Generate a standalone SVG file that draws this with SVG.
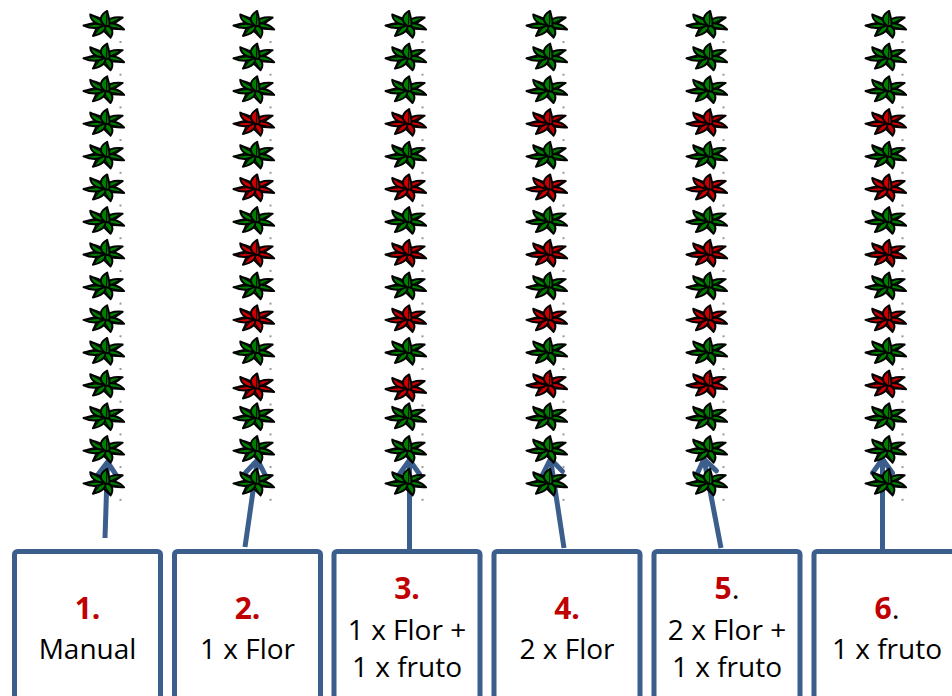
<svg xmlns="http://www.w3.org/2000/svg" xmlns:xlink="http://www.w3.org/1999/xlink" width="952" height="696" viewBox="0 0 952 696">
  <style>
    .box { fill: #ffffff; stroke: #3b5e8c; stroke-width: 5; }
    .num { font-family: "Open Sans", "Liberation Sans", sans-serif; font-size: 30px; font-weight: bold; fill: #c00000; text-anchor: middle; }
    .lbl { font-family: "Open Sans", "Liberation Sans", sans-serif; font-size: 28px; fill: #000000; text-anchor: middle; }
    .dot { font-weight: normal; fill: #000000; }
    .arrow { stroke: #3b5e8c; stroke-width: 5; fill: none; marker-end: url(#head); }
    .g { fill: #008000; }
    .r { fill: #cc0000; }
    .speck { fill: #9a9a9a; }
  </style>
  <defs>
    <!-- open V arrowhead -->
    <marker id="head" markerUnits="userSpaceOnUse" markerWidth="40" markerHeight="40" viewBox="-20 -20 40 40" refX="0" refY="0" orient="auto">
      <path d="M-14,-10 L0,0 L-14,10" fill="none" stroke="#3b5e8c" stroke-width="5" stroke-linejoin="round" stroke-linecap="round"/>
    </marker>
    <!-- one curved, swept leaf pointing along +x -->
    <g id="leaf">
      <path d="M-1,1 C2,-8 10,-10 18,-7.5 C13,-4 8,2 0,5 Z" stroke="#000" stroke-width="2" vector-effect="non-scaling-stroke" stroke-linejoin="round"/>
      <path d="M1,1.5 Q8,-2 15.5,-6.5" fill="none" stroke="#000" stroke-width="1.1" vector-effect="non-scaling-stroke"/>
    </g>
    <!-- whorl of leaves seen in perspective; fill comes from the using element -->
    <g id="plant">
      <g transform="translate(0.5,-0.5) scale(1.08,0.7)">
        <use href="#leaf" transform="rotate(-8)"/>
        <use href="#leaf" transform="rotate(44)"/>
        <use href="#leaf" transform="rotate(96)"/>
        <use href="#leaf" transform="rotate(146)"/>
        <use href="#leaf" transform="rotate(198)"/>
        <use href="#leaf" transform="rotate(250)"/>
        <use href="#leaf" transform="rotate(300)"/>
      </g>
      <rect class="speck" x="15.5" y="16" width="2" height="2"/>
    </g>
  </defs>

  <rect width="952" height="696" fill="#ffffff"/>

  <!-- connectors: each arrow rises from a box into its plant row -->
  <g id="connectors">
    <line class="arrow" x1="105" y1="538" x2="107.5" y2="462"/>
    <line class="arrow" x1="245" y1="547" x2="257.5" y2="460"/>
    <line class="arrow" x1="409.5" y1="549" x2="409.5" y2="460"/>
    <line class="arrow" x1="564" y1="548" x2="550.5" y2="459"/>
    <line class="arrow" x1="721" y1="548" x2="704" y2="459"/>
    <line class="arrow" x1="882.5" y1="549" x2="882.5" y2="459"/>
  </g>

  <!-- plant rows: 15 plants each, y = 25 + 32.7*i -->
  <g id="row-1" transform="translate(104,0)">
    <use href="#plant" class="g" y="25"/>
    <use href="#plant" class="g" y="57.7"/>
    <use href="#plant" class="g" y="90.4"/>
    <use href="#plant" class="g" y="123.1"/>
    <use href="#plant" class="g" y="155.8"/>
    <use href="#plant" class="g" y="188.5"/>
    <use href="#plant" class="g" y="221.2"/>
    <use href="#plant" class="g" y="253.9"/>
    <use href="#plant" class="g" y="286.6"/>
    <use href="#plant" class="g" y="319.3"/>
    <use href="#plant" class="g" y="352"/>
    <use href="#plant" class="g" y="384.7"/>
    <use href="#plant" class="g" y="417.4"/>
    <use href="#plant" class="g" y="450.1"/>
    <use href="#plant" class="g" y="482.8"/>
  </g>
  <g id="row-2" transform="translate(254,0)">
    <use href="#plant" class="g" y="25"/>
    <use href="#plant" class="g" y="57.7"/>
    <use href="#plant" class="g" y="90.4"/>
    <use href="#plant" class="r" y="123.1"/>
    <use href="#plant" class="g" y="155.8"/>
    <use href="#plant" class="r" y="188.5"/>
    <use href="#plant" class="g" y="221.2"/>
    <use href="#plant" class="r" y="253.9"/>
    <use href="#plant" class="g" y="286.6"/>
    <use href="#plant" class="r" y="319.3"/>
    <use href="#plant" class="g" y="352"/>
    <use href="#plant" class="r" y="387.5"/>
    <use href="#plant" class="g" y="417.4"/>
    <use href="#plant" class="g" y="450.1"/>
    <use href="#plant" class="g" y="482.8"/>
  </g>
  <g id="row-3" transform="translate(406,0)">
    <use href="#plant" class="g" y="25"/>
    <use href="#plant" class="g" y="57.7"/>
    <use href="#plant" class="g" y="90.4"/>
    <use href="#plant" class="r" y="123.1"/>
    <use href="#plant" class="g" y="155.8"/>
    <use href="#plant" class="r" y="188.5"/>
    <use href="#plant" class="g" y="221.2"/>
    <use href="#plant" class="r" y="253.9"/>
    <use href="#plant" class="g" y="286.6"/>
    <use href="#plant" class="r" y="319.3"/>
    <use href="#plant" class="g" y="352"/>
    <use href="#plant" class="r" y="388.5"/>
    <use href="#plant" class="g" y="417.4"/>
    <use href="#plant" class="g" y="450.1"/>
    <use href="#plant" class="g" y="482.8"/>
  </g>
  <g id="row-4" transform="translate(547,0)">
    <use href="#plant" class="g" y="25"/>
    <use href="#plant" class="g" y="57.7"/>
    <use href="#plant" class="g" y="90.4"/>
    <use href="#plant" class="r" y="123.1"/>
    <use href="#plant" class="g" y="155.8"/>
    <use href="#plant" class="r" y="188.5"/>
    <use href="#plant" class="g" y="221.2"/>
    <use href="#plant" class="r" y="253.9"/>
    <use href="#plant" class="g" y="286.6"/>
    <use href="#plant" class="r" y="319.3"/>
    <use href="#plant" class="g" y="352"/>
    <use href="#plant" class="r" y="384.7"/>
    <use href="#plant" class="g" y="417.4"/>
    <use href="#plant" class="g" y="450.1"/>
    <use href="#plant" class="g" y="482.8"/>
  </g>
  <g id="row-5" transform="translate(707,0)">
    <use href="#plant" class="g" y="25"/>
    <use href="#plant" class="g" y="57.7"/>
    <use href="#plant" class="g" y="90.4"/>
    <use href="#plant" class="r" y="123.1"/>
    <use href="#plant" class="g" y="155.8"/>
    <use href="#plant" class="r" y="188.5"/>
    <use href="#plant" class="g" y="221.2"/>
    <use href="#plant" class="r" y="253.9"/>
    <use href="#plant" class="g" y="286.6"/>
    <use href="#plant" class="r" y="319.3"/>
    <use href="#plant" class="g" y="352"/>
    <use href="#plant" class="r" y="384.7"/>
    <use href="#plant" class="g" y="417.4"/>
    <use href="#plant" class="g" y="450.1"/>
    <use href="#plant" class="g" y="482.8"/>
  </g>
  <g id="row-6" transform="translate(886,0)">
    <use href="#plant" class="g" y="25"/>
    <use href="#plant" class="g" y="57.7"/>
    <use href="#plant" class="g" y="90.4"/>
    <use href="#plant" class="r" y="123.1"/>
    <use href="#plant" class="g" y="155.8"/>
    <use href="#plant" class="r" y="188.5"/>
    <use href="#plant" class="g" y="221.2"/>
    <use href="#plant" class="r" y="253.9"/>
    <use href="#plant" class="g" y="286.6"/>
    <use href="#plant" class="r" y="319.3"/>
    <use href="#plant" class="g" y="352"/>
    <use href="#plant" class="r" y="384.7"/>
    <use href="#plant" class="g" y="417.4"/>
    <use href="#plant" class="g" y="450.1"/>
    <use href="#plant" class="g" y="482.8"/>
  </g>

  <!-- treatment boxes, running off the bottom edge -->
  <g id="box-1">
    <rect class="box" x="14.5" y="551.5" width="146" height="200" rx="3"/>
    <text class="num" x="87.5" y="619">1.</text>
    <text class="lbl" x="87.5" y="659">Manual</text>
  </g>
  <g id="box-2">
    <rect class="box" x="174.5" y="551.5" width="146" height="200" rx="3"/>
    <text class="num" x="247.5" y="619">2.</text>
    <text class="lbl" x="247.5" y="659">1 x Flor</text>
  </g>
  <g id="box-3">
    <rect class="box" x="334" y="551.5" width="146" height="200" rx="3"/>
    <text class="num" x="407" y="599">3.</text>
    <text class="lbl" x="407" y="640">1 x Flor +</text>
    <text class="lbl" x="407" y="677">1 x fruto</text>
  </g>
  <g id="box-4">
    <rect class="box" x="494" y="551.5" width="146" height="200" rx="3"/>
    <text class="num" x="567" y="619">4.</text>
    <text class="lbl" x="567" y="659">2 x Flor</text>
  </g>
  <g id="box-5">
    <rect class="box" x="654" y="551.5" width="146" height="200" rx="3"/>
    <text class="num" x="727" y="599">5<tspan class="dot">.</tspan></text>
    <text class="lbl" x="727" y="640">2 x Flor +</text>
    <text class="lbl" x="727" y="677">1 x fruto</text>
  </g>
  <g id="box-6">
    <rect class="box" x="814" y="551.5" width="146" height="200" rx="3"/>
    <text class="num" x="887" y="619">6<tspan class="dot">.</tspan></text>
    <text class="lbl" x="887" y="659">1 x fruto</text>
  </g>
</svg>
